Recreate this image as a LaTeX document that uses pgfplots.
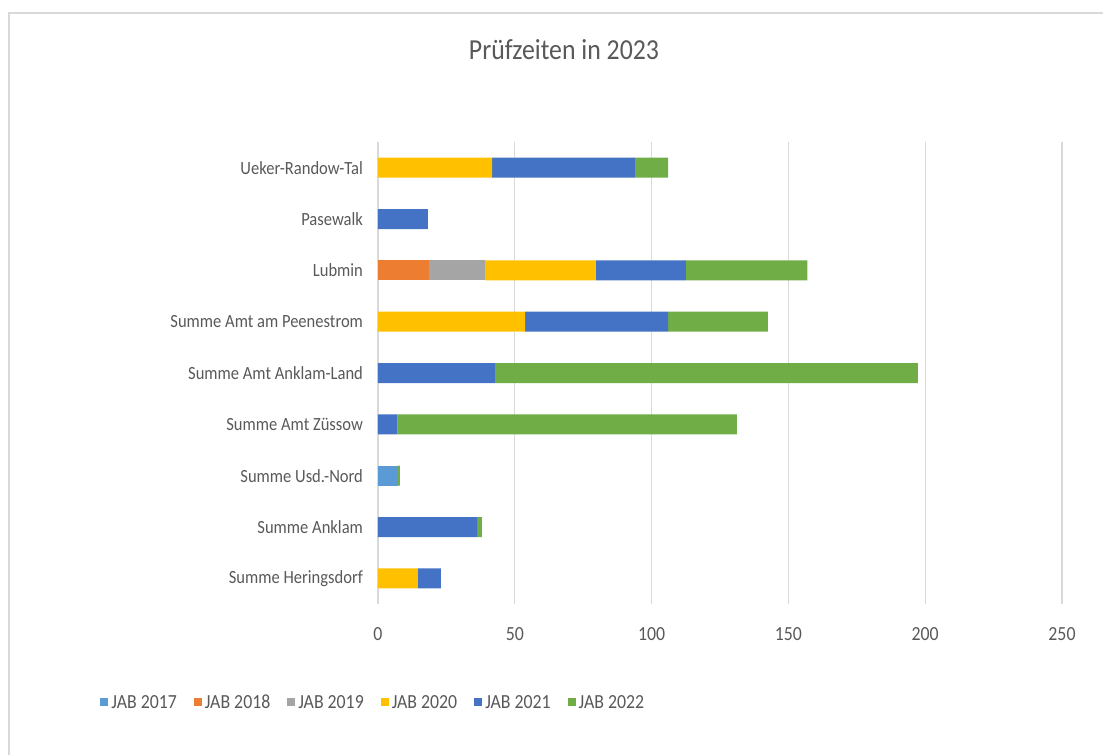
\documentclass[border=0pt]{standalone}
\usepackage{fontspec}
\setmainfont{Carlito}[FakeStretch=0.89]
\usepackage{pgfplots}
\usepackage{pgfplotstable}
\pgfplotsset{compat=1.18}

\definecolor{c17}{HTML}{5B9BD5}
\definecolor{c18}{HTML}{ED7D31}
\definecolor{c19}{HTML}{A5A5A5}
\definecolor{c20}{HTML}{FFC000}
\definecolor{c21}{HTML}{4472C4}
\definecolor{c22}{HTML}{70AD47}
\definecolor{txt}{HTML}{595959}
\definecolor{gridc}{HTML}{D9D9D9}

% values per category (0 = bottom)
\pgfplotstableread{
idx j17 j18 j19 j20 j21 j22
0 0 0 0 14.6 8.4 0
1 0 0 0 0 36.2 1.8
2 7.2 0 0 0 0 0.8
3 0 0 0 0 7.1 124.1
4 0 0 0 0 42.7 154.6
5 0 0 0 53.8 52.2 36.5
6 0 18.5 20.6 40.4 33.0 44.4
7 0 0 0 0 18.2 0
8 0 0 0 41.7 52.5 11.8
}\daten

\begin{document}
\begin{tikzpicture}
\path[use as bounding box] (0,0) rectangle (551.5pt,377.5pt);
\draw[gridc, line width=1pt] (4.3pt,0pt) -- (4.3pt,371pt) -- (551.5pt,371pt);
\node[text=txt, font=\fontsize{14.5}{16}\selectfont] at (282pt,352.5pt) {Prüfzeiten in 2023};
\begin{axis}[
  at={(189pt,75.5pt)}, anchor=south west,
  scale only axis,
  width=342pt, height=231pt,
  xbar stacked,
  bar width=10pt,
  xmin=0, xmax=250,
  ymin=-0.5, ymax=8.5,
  xtick={0,50,...,250},
  ytick={0,...,8},
  yticklabels={Summe Heringsdorf,Summe Anklam,Summe Usd.-Nord,Summe Amt Züssow,Summe Amt Anklam-Land,Summe Amt am Peenestrom,Lubmin\ ,Pasewalk,Ueker-Randow-Tal},
  xmajorgrids,
  major grid style={gridc, line width=0.6pt},
  axis line style={draw=none},
  major tick length=0pt,
  /pgf/number format/assume math mode=true,
  ticklabel style={text=txt},
  yticklabel style={xshift=-4pt, font=\fontsize{9.3}{10}\selectfont},
  xticklabel style={yshift=-8pt, font=\fontsize{10}{11}\selectfont},
  legend style={at={(-142pt,-49pt)}, anchor=west, draw=none, fill=none,
    legend columns=6, font=\fontsize{10}{11}\selectfont, text=txt,
    nodes={inner xsep=1pt, text height=1.6ex, text depth=0.2ex},
    /tikz/every odd column/.append style={column sep=0.5pt},
    /tikz/every even column/.append style={column sep=7.5pt}},
  legend cell align=left,
  legend image code/.code={\fill[#1] (0pt,-2pt) rectangle (4pt,2pt);},
]
\addplot[fill=c17, draw=none] table[x=j17, y=idx] {\daten};
\addplot[fill=c18, draw=none] table[x=j18, y=idx] {\daten};
\addplot[fill=c19, draw=none] table[x=j19, y=idx] {\daten};
\addplot[fill=c20, draw=none] table[x=j20, y=idx] {\daten};
\addplot[fill=c21, draw=none] table[x=j21, y=idx] {\daten};
\addplot[fill=c22, draw=none] table[x=j22, y=idx] {\daten};
\legend{JAB 2017,JAB 2018,JAB 2019,JAB 2020,JAB 2021,JAB 2022}
\end{axis}
\end{tikzpicture}
\end{document}
